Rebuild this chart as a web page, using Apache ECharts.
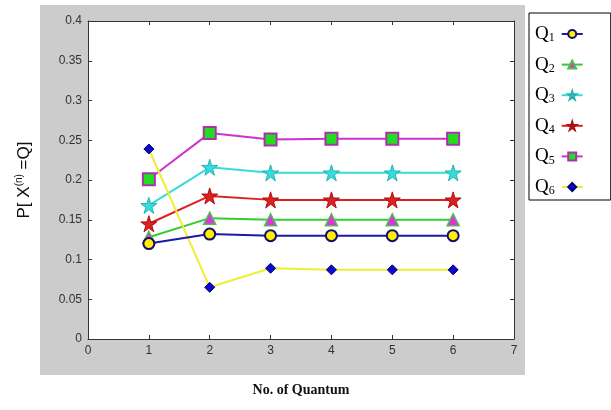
<!DOCTYPE html>
<html><head><meta charset="utf-8">
<script src="https://cdn.jsdelivr.net/npm/echarts@6/dist/echarts.min.js"></script>
<style>html,body{margin:0;padding:0;background:#fff}#c{width:611px;height:410px}</style>
</head><body><div id="c"></div>
<script>
const xValues = [1, 2, 3, 4, 5, 6];
const q1 = [0.120, 0.132, 0.130, 0.130, 0.130, 0.130];
const q2 = [0.128, 0.152, 0.150, 0.150, 0.150, 0.150];
const q3 = [0.168, 0.216, 0.209, 0.209, 0.209, 0.209];
const q4 = [0.145, 0.180, 0.175, 0.175, 0.175, 0.175];
const q5 = [0.201, 0.259, 0.251, 0.252, 0.252, 0.252];
const q6 = [0.239, 0.065, 0.089, 0.087, 0.087, 0.087];
const seriesNames = ['Q1', 'Q2', 'Q3', 'Q4', 'Q5', 'Q6'];
const yTicks = [0, 0.05, 0.1, 0.15, 0.2, 0.25, 0.3, 0.35, 0.4];
const xTicks = [0, 1, 2, 3, 4, 5, 6, 7];

const star = 'path://M50,0 L61,35 L98,35 L68,57 L79,91 L50,70 L21,91 L32,57 L2,35 L39,35 Z';
const pair = arr => arr.map((v, i) => [xValues[i], v]);

const styles = [
  {line:'#1a1aa8', symbol:'circle', size:11, fill:'#ffee00', border:'#10106a', bw:2},
  {line:'#33cc33', symbol:'triangle', size:12, fill:'#dd33dd', border:'#55bb55', bw:1.5},
  {line:'#33dddd', symbol:star, size:16, fill:'#33dddd', border:'#2ab0b0', bw:1},
  {line:'#dd2020', symbol:star, size:16, fill:'#dd2020', border:'#aa1010', bw:1},
  {line:'#cc33cc', symbol:'rect', size:12, fill:'#22dd22', border:'#aa33aa', bw:2},
  {line:'#eeee33', symbol:'diamond', size:10, fill:'#0a0ac8', border:'#000080', bw:1}
];
const data = [q1, q2, q3, q4, q5, q6];

const chart = echarts.init(document.getElementById('c'));
chart.setOption({
  backgroundColor: '#fff',
  animation: false,
  graphic: [{
    type: 'rect', z: -10, silent: true,
    shape: {x: 40, y: 5, width: 485, height: 370},
    style: {fill: '#cccccc'}
  }, {
    type: 'rect', z: -9, silent: true,
    shape: {x: 88, y: 21, width: 426, height: 318},
    style: {fill: '#ffffff'}
  }],
  grid: {left: 88, right: 97, top: 21, bottom: 71, show: false},
  legend: {
    orient: 'vertical', left: 529, top: 13,
    backgroundColor: '#fff', borderColor: '#000', borderWidth: 1,
    padding: [11, 27, 3, 6],
    itemGap: 10.6, itemWidth: 21, itemHeight: 10,
    align: 'right',
    data: seriesNames,
    formatter: n => '{a|Q}{b|' + n.slice(1) + '}',
    textStyle: {
      rich: {
        a: {fontFamily: 'Liberation Serif', fontSize: 19, color: '#000', lineHeight: 20},
        b: {fontFamily: 'Liberation Serif', fontSize: 12, color: '#000', verticalAlign: 'bottom', padding: [8, 2, 0, 0], lineHeight: 20}
      }
    }
  },
  xAxis: [{
    type: 'value', min: 0, max: 7, interval: 1,
    name: 'No. of Quantum', nameLocation: 'middle', nameGap: 44,
    nameTextStyle: {fontFamily: 'Liberation Serif', fontWeight: 'bold', fontSize: 14, color: '#111'},
    axisLine: {show: true, lineStyle: {color: '#333', width: 1}},
    axisTick: {show: true, inside: true, length: 4, lineStyle: {color: '#333'}},
    axisLabel: {color: '#333', fontFamily: 'Liberation Sans', fontSize: 12, margin: 6},
    splitLine: {show: false},
    data: xTicks
  }, {
    type: 'value', min: 0, max: 7, interval: 1, position: 'top',
    axisLine: {show: true, onZero: false, lineStyle: {color: '#333', width: 1}},
    axisTick: {show: true, inside: true, length: 4, lineStyle: {color: '#333'}},
    axisLabel: {show: false}, splitLine: {show: false}
  }],
  yAxis: [{
    type: 'value', min: 0, max: 0.4, interval: 0.05,
    name: '{a|P[ X}{s|(n)}{a| =Q]}', nameLocation: 'middle', nameGap: 54, nameRotate: 90,
    nameTextStyle: {
      rich: {
        a: {fontFamily: 'Liberation Sans', fontSize: 17, color: '#111'},
        s: {fontFamily: 'Liberation Sans', fontSize: 10, color: '#111', verticalAlign: 'top', padding: [0, 0, 10, 0]}
      }
    },
    axisLine: {show: true, lineStyle: {color: '#333', width: 1}},
    axisTick: {show: true, inside: true, length: 4, lineStyle: {color: '#333'}},
    axisLabel: {color: '#333', fontFamily: 'Liberation Sans', fontSize: 12, margin: 6,
      formatter: v => String(+v.toFixed(2))},
    splitLine: {show: false}
  }, {
    type: 'value', min: 0, max: 0.4, interval: 0.05, position: 'right',
    axisLine: {show: true, onZero: false, lineStyle: {color: '#333', width: 1}},
    axisTick: {show: true, inside: true, length: 4, lineStyle: {color: '#333'}},
    axisLabel: {show: false}, splitLine: {show: false}
  }],
  series: data.map((d, i) => ({
    name: seriesNames[i], type: 'line', data: pair(d),
    symbol: styles[i].symbol, symbolSize: styles[i].size,
    lineStyle: {color: styles[i].line, width: 2},
    itemStyle: {color: styles[i].fill, borderColor: styles[i].border, borderWidth: styles[i].bw},
    z: 2 + (i === 0 ? 1 : 0)
  }))
});
</script>
</body></html>
